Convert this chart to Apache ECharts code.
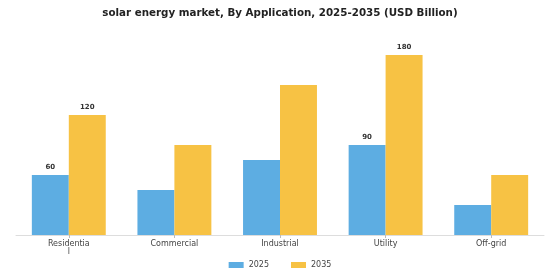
<!DOCTYPE html>
<html>
<head>
<meta charset="utf-8">
<script src="https://cdn.jsdelivr.net/npm/echarts@6/dist/echarts.min.js"></script>
<style>
  html, body { margin: 0; padding: 0; background: #fff; }
  #echart { width: 560px; height: 280px; }
</style>
</head>
<body>
<div id="echart"></div>
<script>
// chart data
const categories = ["Residential", "Commercial", "Industrial", "Utility", "Off-grid"];
const seriesNames = ["2025", "2035"];
const values2025 = [60, 45, 75, 90, 30];
const values2035 = [120, 90, 150, 180, 60];
// only these bars carry a value label in the original
const labelled = ["Residential", "Utility"];

const colors = ["#5DADE2", "#F7C244"];

function toData(values) {
  return values.map((v, i) => ({
    value: v,
    label: { show: labelled.includes(categories[i]) }
  }));
}

const chart = echarts.init(document.getElementById("echart"));
chart.setOption({
  animation: false,
  textStyle: { fontFamily: "DejaVu Sans" },
  title: {
    text: "solar energy market, By Application, 2025-2035 (USD Billion)",
    left: "center",
    top: 3,
    textStyle: { fontSize: 10.3, fontWeight: "bold", color: "#222", fontFamily: "DejaVu Sans" }
  },
  legend: {
    data: seriesNames,
    bottom: 6,
    itemWidth: 15,
    itemHeight: 6,
    itemGap: 22,
    icon: "rect",
    textStyle: { fontSize: 8, color: "#444" }
  },
  grid: { left: 16, right: 16, top: 35, bottom: 45 },
  xAxis: {
    type: "category",
    data: categories,
    axisLine: { lineStyle: { color: "#ddd" } },
    axisTick: { show: true, alignWithLabel: true, length: 3, lineStyle: { color: "#bbb" } },
    axisLabel: {
      fontSize: 8,
      color: "#444",
      margin: 5,
      formatter: (name) => name.length > 10 ? name.slice(0, 10) + "\n" + name.slice(10) : name
    }
  },
  yAxis: {
    type: "value",
    min: 0,
    max: 200,
    show: false
  },
  series: [
    {
      name: seriesNames[0],
      type: "bar",
      data: toData(values2025),
      itemStyle: { color: colors[0] },
      barGap: "0%",
      barCategoryGap: "30%",
      label: { position: "top", fontSize: 7, fontWeight: "bold", color: "#333", distance: 4 }
    },
    {
      name: seriesNames[1],
      type: "bar",
      data: toData(values2035),
      itemStyle: { color: colors[1] },
      barGap: "0%",
      barCategoryGap: "30%",
      label: { position: "top", fontSize: 7, fontWeight: "bold", color: "#333", distance: 4 }
    }
  ]
});
</script>
</body>
</html>
